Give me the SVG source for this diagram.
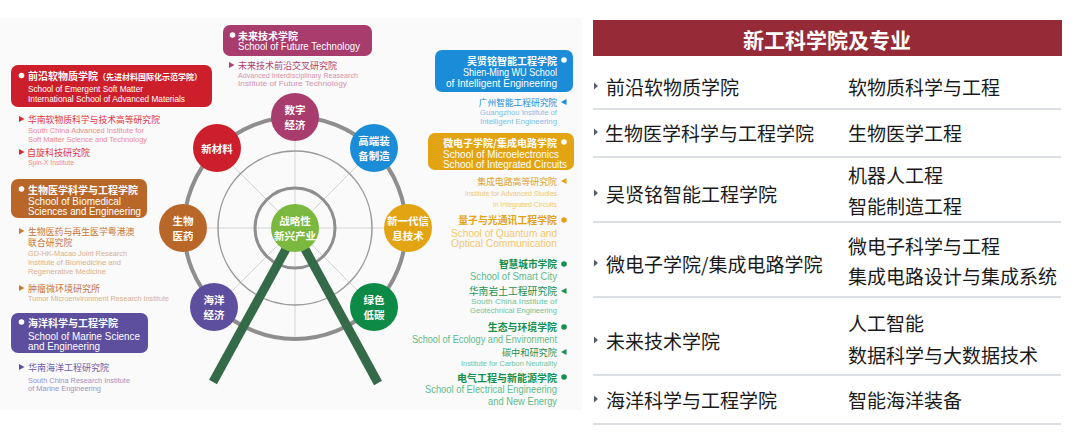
<svg xmlns="http://www.w3.org/2000/svg" width="1080" height="436" viewBox="0 0 1080 436">
<defs>
<style>
.cn{font-family:"Noto Sans CJK SC","Noto Sans",sans-serif;dominant-baseline:central}
.en{font-family:"Liberation Sans","Noto Sans",sans-serif;dominant-baseline:central}
.b{font-weight:bold}
.w{fill:#ffffff}
.wl{fill:#ffffff;text-anchor:middle;font-family:"Noto Sans CJK SC",sans-serif;font-weight:bold;font-size:10.5px;dominant-baseline:central}
.r{text-anchor:end}
.sep{stroke:#cfd3d8;stroke-width:1.5}
.tl{font-family:"Noto Sans CJK SC",sans-serif;font-size:19px;fill:#1a1a1a;dominant-baseline:central}
.tri{fill:#56606e}
</style>
</defs>
<rect x="0" y="0" width="1080" height="436" fill="#ffffff"/>
<rect x="0" y="18" width="582" height="392" fill="#fafafa"/>

<!-- Wheel structure -->
<g id="connectors">
  <g stroke="#d4d4d4" stroke-width="1">
    <line x1="295" y1="117" x2="295" y2="339"/>
    <line x1="184" y1="228" x2="406" y2="228"/>
    <line x1="216.5" y1="149.5" x2="373.5" y2="306.5"/>
    <line x1="373.5" y1="149.5" x2="216.5" y2="306.5"/>
  </g>
  <circle cx="295" cy="228" r="111" fill="none" stroke="#8e8e8e" stroke-width="4"/>
  <circle cx="295" cy="228" r="77" fill="none" stroke="#9a9a9a" stroke-width="1.5"/>
  <circle cx="295" cy="228" r="40" fill="none" stroke="#8e8e8e" stroke-width="3"/>
  <line x1="286" y1="249" x2="213" y2="382" stroke="#356a48" stroke-width="9"/>
  <line x1="305" y1="249" x2="378" y2="383" stroke="#356a48" stroke-width="9"/>
</g>

<g id="n-digital"><circle cx="295" cy="117" r="24" fill="#a83c6c"/><text class="wl" x="295" y="109.8">数字</text><text class="wl" x="295" y="124.3">经济</text></g>
<g id="n-equip"><circle cx="374" cy="148" r="24" fill="#1a8cd8"/><text class="wl" x="374" y="140.8">高端装</text><text class="wl" x="374" y="155.3">备制造</text></g>
<g id="n-it"><circle cx="408" cy="228" r="24" fill="#e3a414"/><text class="wl" x="408" y="220.8">新一代信</text><text class="wl" x="408" y="235.3">息技术</text></g>
<g id="n-green"><circle cx="374" cy="307" r="24" fill="#0d8a45"/><text class="wl" x="374" y="299.8">绿色</text><text class="wl" x="374" y="314.3">低碳</text></g>
<g id="n-ocean"><circle cx="214" cy="307" r="24" fill="#5e4f9e"/><text class="wl" x="214" y="299.8">海洋</text><text class="wl" x="214" y="314.3">经济</text></g>
<g id="n-bio"><circle cx="183" cy="228" r="24" fill="#b96729"/><text class="wl" x="183" y="220.8">生物</text><text class="wl" x="183" y="235.3">医药</text></g>
<g id="n-material"><circle cx="217" cy="148" r="24" fill="#cc1e2b"/><text class="wl" x="217" y="148">新材料</text></g>
<g id="n-center"><circle cx="295" cy="228" r="24" fill="#7ab840"/><text class="wl" x="295" y="220.8">战略性</text><text class="wl" x="295" y="235.3">新兴产业</text></g>

<!-- Left column -->
<g id="school-softmatter">
  <rect x="11" y="65" width="201" height="42" rx="7" fill="#cc1e2b"/>
  <circle cx="21.5" cy="75.5" r="2.8" fill="#fff"/>
  <text class="cn b w" x="28" y="75.5" font-size="10">前沿软物质学院<tspan font-size="8">（先进材料国际化示范学院）</tspan></text>
  <text class="en w" x="28" y="88" font-size="9.5" textLength="115" lengthAdjust="spacingAndGlyphs">School of Emergent Soft Matter</text>
  <text class="en w" x="28" y="98" font-size="9.5" textLength="157" lengthAdjust="spacingAndGlyphs">International School of Advanced Materials</text>
  <polygon points="19,116 24.5,119 19,122" fill="#d9262f"/>
  <text class="cn" x="28" y="119" font-size="8.8" fill="#e0323c">华南软物质科学与技术高等研究院</text>
  <text class="en" x="28" y="130" font-size="7.3" fill="#ec8a92" textLength="116" lengthAdjust="spacingAndGlyphs">South China Advanced Institute for</text>
  <text class="en" x="28" y="139" font-size="7.3" fill="#ec8a92" textLength="119" lengthAdjust="spacingAndGlyphs">Soft Matter Science and Technology</text>
  <polygon points="19,149 24.5,152 19,155" fill="#d9262f"/>
  <text class="cn" x="27" y="152" font-size="9" fill="#e0323c">自旋科技研究院</text>
  <text class="en" x="28" y="162" font-size="7.3" fill="#ec8a92" textLength="46" lengthAdjust="spacingAndGlyphs">Spin-X Institute</text>
</g>

<g id="school-biomed">
  <rect x="11" y="179" width="136" height="39" rx="7" fill="#b96729"/>
  <circle cx="21.5" cy="189" r="2.8" fill="#fff"/>
  <text class="cn b w" x="28" y="189" font-size="10">生物医学科学与工程学院</text>
  <text class="en w" x="28" y="201" font-size="10.5" textLength="93" lengthAdjust="spacingAndGlyphs">School of Biomedical</text>
  <text class="en w" x="28" y="211" font-size="10.5" textLength="113" lengthAdjust="spacingAndGlyphs">Sciences and Engineering</text>
  <polygon points="19,228 24.5,231 19,234" fill="#c97a3a"/>
  <text class="cn" x="28" y="231" font-size="8.9" fill="#c8753a">生物医药与再生医学粤港澳</text>
  <text class="cn" x="28" y="242" font-size="8.9" fill="#c8753a">联合研究院</text>
  <text class="en" x="28" y="253" font-size="7.3" fill="#d9b090" textLength="99" lengthAdjust="spacingAndGlyphs">GD-HK-Macao Joint Research</text>
  <text class="en" x="28" y="262" font-size="7.3" fill="#d9b090" textLength="93" lengthAdjust="spacingAndGlyphs">Institute of Biomedicine and</text>
  <text class="en" x="28" y="271" font-size="7.3" fill="#d9b090" textLength="78" lengthAdjust="spacingAndGlyphs">Regenerative Medicine</text>
  <polygon points="19,285 24.5,288 19,291" fill="#c97a3a"/>
  <text class="cn" x="28" y="288" font-size="9" fill="#c8753a">肿瘤微环境研究所</text>
  <text class="en" x="28" y="298" font-size="7.3" fill="#d9b090" textLength="141" lengthAdjust="spacingAndGlyphs">Tumor Microenvironment Research Institute</text>
</g>

<g id="school-marine">
  <rect x="11" y="313" width="137" height="40" rx="7" fill="#5e4f9e"/>
  <circle cx="21.5" cy="322" r="2.8" fill="#fff"/>
  <text class="cn b w" x="28" y="322" font-size="10">海洋科学与工程学院</text>
  <text class="en w" x="28" y="335.5" font-size="10.5" textLength="112" lengthAdjust="spacingAndGlyphs">School of Marine Science</text>
  <text class="en w" x="28" y="345.5" font-size="10.5" textLength="72" lengthAdjust="spacingAndGlyphs">and Engineering</text>
  <polygon points="19,364 24.5,367 19,370" fill="#5e4f9e"/>
  <text class="cn" x="28" y="367" font-size="9" fill="#6c5dab">华南海洋工程研究院</text>
  <text class="en" x="28" y="380" font-size="7.3" fill="#9b93c6" textLength="102" lengthAdjust="spacingAndGlyphs">South China Research Institute</text>
  <text class="en" x="28" y="388.5" font-size="7.3" fill="#9b93c6" textLength="73" lengthAdjust="spacingAndGlyphs">of Marine Engineering</text>
</g>

<g id="school-future">
  <rect x="223" y="25" width="149" height="31" rx="7" fill="#a83c6c"/>
  <circle cx="232.5" cy="35" r="2.8" fill="#fff"/>
  <text class="cn b w" x="238" y="35" font-size="10">未来技术学院</text>
  <text class="en w" x="238" y="46.5" font-size="10" textLength="122" lengthAdjust="spacingAndGlyphs">School of Future Technology</text>
  <polygon points="229,62 234.5,65 229,68" fill="#b0416f"/>
  <text class="cn" x="238" y="65" font-size="9" fill="#b0416f">未来技术前沿交叉研究院</text>
  <text class="en" x="238" y="75" font-size="7.3" fill="#d592ae" textLength="120" lengthAdjust="spacingAndGlyphs">Advanced Interdisciplinary Reasearch</text>
  <text class="en" x="238" y="83.5" font-size="7.3" fill="#d592ae" textLength="109" lengthAdjust="spacingAndGlyphs">Institute of  Future Technology</text>
</g>

<!-- Right column -->
<g id="school-intelligent">
  <rect x="435" y="50" width="138" height="42" rx="7" fill="#1a8cd8"/>
  <circle cx="564" cy="60" r="2.8" fill="#fff"/>
  <text class="cn b w r" x="557" y="60" font-size="10">吴贤铭智能工程学院</text>
  <text class="en w r" x="557" y="72" font-size="10.5" textLength="94" lengthAdjust="spacingAndGlyphs">Shien-Ming WU School</text>
  <text class="en w r" x="557" y="82.5" font-size="10.5" textLength="111" lengthAdjust="spacingAndGlyphs">of Intelligent Engineering</text>
  <polygon points="566.5,99 561,102 566.5,105" fill="#1a8cd8"/>
  <text class="cn r" x="557" y="102" font-size="8.7" fill="#1a8cd8">广州智能工程研究院</text>
  <text class="en r" x="557" y="112.5" font-size="7.3" fill="#80bee9" textLength="77" lengthAdjust="spacingAndGlyphs">Guangzhou Institute of</text>
  <text class="en r" x="557" y="121" font-size="7.3" fill="#80bee9" textLength="77" lengthAdjust="spacingAndGlyphs">Intelligent Engineering</text>
</g>

<g id="school-micro">
  <rect x="428" y="133" width="146" height="37" rx="7" fill="#e3a414"/>
  <circle cx="564" cy="142" r="2.8" fill="#fff"/>
  <text class="cn b w r" x="557" y="142" font-size="10">微电子学院/集成电路学院</text>
  <text class="en w" x="443" y="154" font-size="10.5" textLength="116" lengthAdjust="spacingAndGlyphs">School of Microelectronics</text>
  <text class="en w" x="443" y="164" font-size="10.5" textLength="124" lengthAdjust="spacingAndGlyphs">School of Integrated Circuits</text>
  <polygon points="566.5,178 561,181 566.5,184" fill="#e3a414"/>
  <text class="cn r" x="557" y="181" font-size="8.9" fill="#e0a030">集成电路高等研究院</text>
  <text class="en r" x="557" y="193.5" font-size="7.3" fill="#f0c878" textLength="92" lengthAdjust="spacingAndGlyphs">Institute for Advanced Studies</text>
  <text class="en r" x="557" y="204" font-size="7.3" fill="#f0c878" textLength="64" lengthAdjust="spacingAndGlyphs">in Integrated Circuits</text>
</g>

<g id="school-quantum">
  <circle cx="564" cy="220" r="2.8" fill="#e3a414"/>
  <text class="cn b r" x="557" y="220" font-size="9.9" fill="#e3a414">量子与光通讯工程学院</text>
  <text class="en r" x="557" y="233" font-size="11" fill="#f2c76a" textLength="106" lengthAdjust="spacingAndGlyphs">School of Quantum and</text>
  <text class="en r" x="557" y="243" font-size="11" fill="#f2c76a" textLength="106" lengthAdjust="spacingAndGlyphs">Optical Communication</text>
</g>

<g id="school-smartcity">
  <circle cx="564" cy="264" r="2.8" fill="#17904d"/>
  <text class="cn b r" x="557" y="264" font-size="9.7" fill="#17904d">智慧城市学院</text>
  <text class="en r" x="557" y="276" font-size="10.5" fill="#5dbb8a" textLength="87" lengthAdjust="spacingAndGlyphs">School of Smart City</text>
  <polygon points="566.5,288 561,291 566.5,294" fill="#17904d"/>
  <text class="cn r" x="557" y="291" font-size="9.8" fill="#1f9150">华南岩土工程研究院</text>
  <text class="en r" x="557" y="301" font-size="7.3" fill="#70c498" textLength="86" lengthAdjust="spacingAndGlyphs">South China Institute of</text>
  <text class="en r" x="557" y="310" font-size="7.3" fill="#70c498" textLength="87" lengthAdjust="spacingAndGlyphs">Geotechnical Engineering</text>
</g>

<g id="school-ecology">
  <circle cx="564" cy="327" r="2.8" fill="#17904d"/>
  <text class="cn b r" x="557" y="327" font-size="9.9" fill="#17904d">生态与环境学院</text>
  <text class="en r" x="557" y="339" font-size="10.5" fill="#5dbb8a" textLength="145" lengthAdjust="spacingAndGlyphs">School of Ecology and Environment</text>
  <polygon points="566.5,349 561,352 566.5,355" fill="#17904d"/>
  <text class="cn r" x="557" y="352" font-size="9.2" fill="#1f9150">碳中和研究院</text>
  <text class="en r" x="557" y="363" font-size="7.3" fill="#70c498" textLength="96" lengthAdjust="spacingAndGlyphs">Institute for Carbon Neutrality</text>
</g>

<g id="school-electrical">
  <circle cx="564" cy="377" r="2.8" fill="#17904d"/>
  <text class="cn b r" x="557" y="377" font-size="10" fill="#17904d">电气工程与新能源学院</text>
  <text class="en r" x="557" y="389" font-size="10.5" fill="#5dbb8a" textLength="132" lengthAdjust="spacingAndGlyphs">School of Electrical Engineering</text>
  <text class="en r" x="557" y="400.5" font-size="10.5" fill="#5dbb8a" textLength="69" lengthAdjust="spacingAndGlyphs">and New Energy</text>
</g>

<!-- Table -->
<g id="table">
  <rect x="593" y="20" width="469" height="36" fill="#962b37"/>
  <text class="cn b w" x="827" y="38.5" font-size="21" text-anchor="middle">新工科学院及专业</text>
  <line class="sep" x1="593" y1="109" x2="1061" y2="109"/>
  <line class="sep" x1="593" y1="157" x2="1061" y2="157"/>
  <line class="sep" x1="593" y1="222" x2="1061" y2="222"/>
  <line class="sep" x1="593" y1="297" x2="1061" y2="297"/>
  <line class="sep" x1="593" y1="375" x2="1061" y2="375"/>
  <line class="sep" x1="593" y1="424" x2="1061" y2="424"/>
</g>
<g id="row-1">
  <polygon class="tri" points="594,82.5 598,86 594,89.5"/>
  <text class="tl" x="606" y="86">前沿软物质学院</text>
  <text class="tl" x="848" y="86">软物质科学与工程</text>
</g>
<g id="row-2">
  <polygon class="tri" points="594,128.5 598,132 594,135.5"/>
  <text class="tl" x="605" y="132">生物医学科学与工程学院</text>
  <text class="tl" x="848" y="132">生物医学工程</text>
</g>
<g id="row-3">
  <polygon class="tri" points="594,189.5 598,193 594,196.5"/>
  <text class="tl" x="606" y="193">吴贤铭智能工程学院</text>
  <text class="tl" x="848" y="174">机器人工程</text>
  <text class="tl" x="848" y="205">智能制造工程</text>
</g>
<g id="row-4">
  <polygon class="tri" points="594,259.5 598,263 594,266.5"/>
  <text class="tl" x="606" y="263">微电子学院/集成电路学院</text>
  <text class="tl" x="848" y="245">微电子科学与工程</text>
  <text class="tl" x="848" y="275">集成电路设计与集成系统</text>
</g>
<g id="row-5">
  <polygon class="tri" points="594,336.5 598,340 594,343.5"/>
  <text class="tl" x="606" y="340">未来技术学院</text>
  <text class="tl" x="848" y="322">人工智能</text>
  <text class="tl" x="848" y="354">数据科学与大数据技术</text>
</g>
<g id="row-6">
  <polygon class="tri" points="594,395.5 598,399 594,402.5"/>
  <text class="tl" x="606" y="399">海洋科学与工程学院</text>
  <text class="tl" x="848" y="399">智能海洋装备</text>
</g>
</svg>
